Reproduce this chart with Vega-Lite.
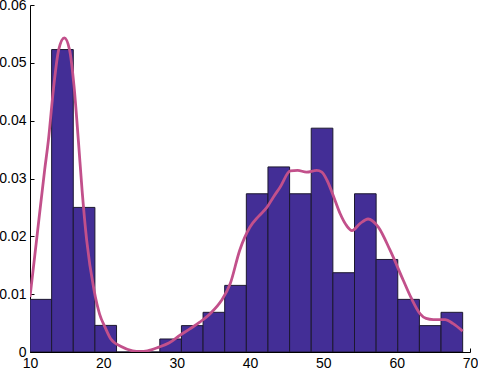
{
  "$schema": "https://vega.github.io/schema/vega-lite/v6.json",
  "width": 440,
  "height": 347,
  "autosize": {"type": "none"},
  "padding": {"left": 30, "top": 5, "right": 8, "bottom": 16},
  "background": "white",
  "config": {
    "view": {"stroke": null},
    "axis": {
      "grid": false,
      "domainColor": "#000000",
      "domainWidth": 1,
      "tickColor": "#000000",
      "tickSize": -4,
      "labelPadding": 8,
      "labelFont": "Liberation Sans",
      "labelFontSize": 14,
      "labelColor": "#000000",
      "title": null
    }
  },
  "datasets": {
    "bins": [
      {"x0": 10.0, "x1": 12.95, "density": 0.0091},
      {"x0": 12.95, "x1": 15.9, "density": 0.0523},
      {"x0": 15.9, "x1": 18.85, "density": 0.0250},
      {"x0": 18.85, "x1": 21.8, "density": 0.0046},
      {"x0": 21.8, "x1": 24.75, "density": 0},
      {"x0": 24.75, "x1": 27.7, "density": 0},
      {"x0": 27.7, "x1": 30.65, "density": 0.00225},
      {"x0": 30.65, "x1": 33.6, "density": 0.00456},
      {"x0": 33.6, "x1": 36.55, "density": 0.00686},
      {"x0": 36.55, "x1": 39.5, "density": 0.01152},
      {"x0": 39.5, "x1": 42.45, "density": 0.02736},
      {"x0": 42.45, "x1": 45.4, "density": 0.0320},
      {"x0": 45.4, "x1": 48.35, "density": 0.02736},
      {"x0": 48.35, "x1": 51.3, "density": 0.0387},
      {"x0": 51.3, "x1": 54.25, "density": 0.01371},
      {"x0": 54.25, "x1": 57.2, "density": 0.02736},
      {"x0": 57.2, "x1": 60.15, "density": 0.0160},
      {"x0": 60.15, "x1": 63.1, "density": 0.0091},
      {"x0": 63.1, "x1": 66.05, "density": 0.00456},
      {"x0": 66.05, "x1": 69.0, "density": 0.00686}
    ],
    "kde": [
      {"x": 10.0, "y": 0.0095},
      {"x": 11.0, "y": 0.0205},
      {"x": 12.0, "y": 0.0315},
      {"x": 12.5, "y": 0.0365},
      {"x": 13.2, "y": 0.0455},
      {"x": 13.9, "y": 0.0522},
      {"x": 14.68, "y": 0.0543},
      {"x": 15.4, "y": 0.0522},
      {"x": 16.0, "y": 0.0460},
      {"x": 16.6, "y": 0.0365},
      {"x": 17.1, "y": 0.0280},
      {"x": 17.73, "y": 0.0193},
      {"x": 18.73, "y": 0.0107},
      {"x": 19.5, "y": 0.0065},
      {"x": 20.23, "y": 0.0043},
      {"x": 21.0, "y": 0.0023},
      {"x": 22.5, "y": 0.0009},
      {"x": 24.0, "y": 0.0002},
      {"x": 25.0, "y": 0.0001},
      {"x": 26.0, "y": 0.0002},
      {"x": 27.5, "y": 0.0008},
      {"x": 29.0, "y": 0.0016},
      {"x": 30.45, "y": 0.0029},
      {"x": 31.8, "y": 0.0040},
      {"x": 33.2, "y": 0.0052},
      {"x": 34.7, "y": 0.0068},
      {"x": 36.1, "y": 0.0089},
      {"x": 37.3, "y": 0.0118},
      {"x": 38.6, "y": 0.0176},
      {"x": 40.0, "y": 0.0216},
      {"x": 41.2, "y": 0.0235},
      {"x": 42.3, "y": 0.0250},
      {"x": 43.2, "y": 0.0268},
      {"x": 44.1, "y": 0.0285},
      {"x": 45.5, "y": 0.0313},
      {"x": 46.5, "y": 0.0314},
      {"x": 47.7, "y": 0.0311},
      {"x": 49.1, "y": 0.0314},
      {"x": 49.8, "y": 0.0311},
      {"x": 50.5, "y": 0.0297},
      {"x": 51.6, "y": 0.0262},
      {"x": 52.3, "y": 0.0239},
      {"x": 53.2, "y": 0.0218},
      {"x": 53.9, "y": 0.0210},
      {"x": 55.0, "y": 0.0222},
      {"x": 56.1, "y": 0.0230},
      {"x": 57.5, "y": 0.0216},
      {"x": 59.1, "y": 0.0176},
      {"x": 60.9, "y": 0.0124},
      {"x": 62.0, "y": 0.0093},
      {"x": 63.2, "y": 0.0066},
      {"x": 64.0, "y": 0.0058},
      {"x": 65.0, "y": 0.0056},
      {"x": 66.6, "y": 0.0056},
      {"x": 67.7, "y": 0.0049},
      {"x": 69.0, "y": 0.0036}
    ]
  },
  "layer": [
    {
      "data": {"name": "bins"},
      "mark": {"type": "bar", "fill": "#432e96", "stroke": "#1c1830", "strokeWidth": 1, "clip": true},
      "encoding": {
        "x": {
          "field": "x0", "type": "quantitative",
          "scale": {"domain": [10, 70], "nice": false, "zero": false},
          "axis": {"values": [10, 20, 30, 40, 50, 60, 70], "format": "d", "labelFlush": false}
        },
        "x2": {"field": "x1"},
        "y": {
          "field": "density", "type": "quantitative",
          "scale": {"domain": [0, 0.06], "nice": false},
          "axis": {"values": [0, 0.01, 0.02, 0.03, 0.04, 0.05, 0.06], "format": "~g", "labelFlush": false}
        },
        "y2": {"datum": 0}
      }
    },
    {
      "data": {"name": "kde"},
      "mark": {"type": "line", "color": "#c2508b", "strokeWidth": 2.8, "interpolate": "monotone", "clip": true},
      "encoding": {
        "x": {"field": "x", "type": "quantitative"},
        "y": {"field": "y", "type": "quantitative"}
      }
    }
  ]
}
